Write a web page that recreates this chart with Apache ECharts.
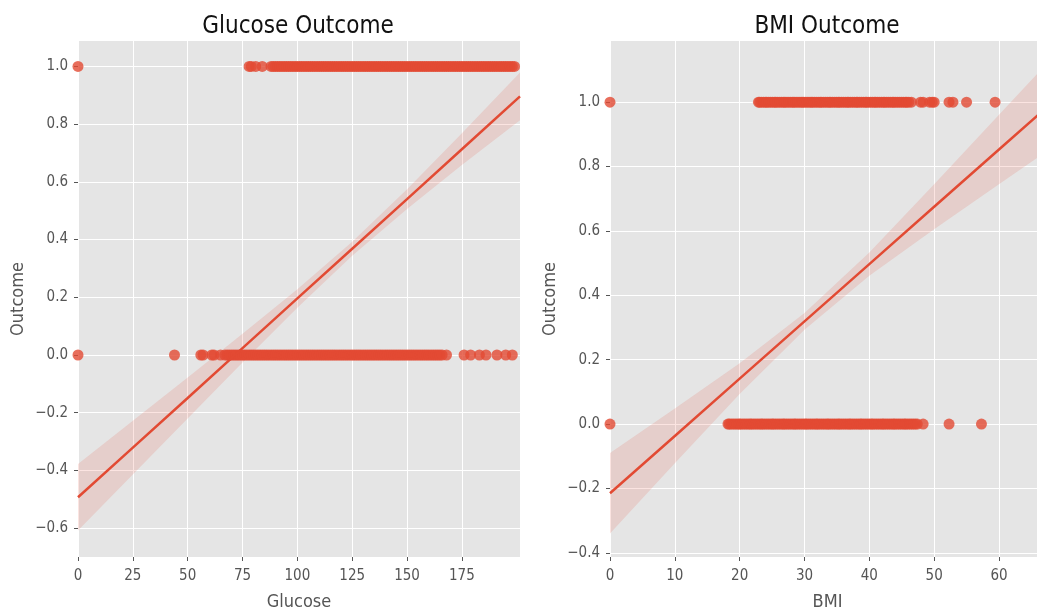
<!DOCTYPE html>
<html>
<head>
<meta charset="utf-8">
<script src="https://cdn.jsdelivr.net/npm/echarts@6/dist/echarts.min.js"></script>
<style>
html,body{margin:0;padding:0;background:#fff;overflow:hidden;}
#c{width:1045px;height:610px;}
</style>
</head>
<body>
<div id="c"></div>
<script>
// ---------- data ----------
const glucoseOutcome1 = [0, 78, 79, 81, 84, 88, 89, 90, 91, 92, 93, 94, 95, 96, 97, 98, 99, 100, 101, 102, 103, 104, 105, 106, 107, 108, 109, 110, 111, 112, 113, 114, 115, 116, 117, 118, 119, 120, 121, 122, 123, 124, 125, 126, 127, 128, 129, 130, 131, 132, 133, 134, 135, 136, 137, 138, 139, 140, 141, 142, 143, 144, 145, 146, 147, 148, 149, 150, 151, 152, 153, 154, 155, 156, 157, 158, 159, 160, 161, 162, 163, 164, 165, 166, 167, 168, 169, 170, 171, 172, 173, 174, 175, 176, 177, 178, 179, 180, 181, 182, 183, 184, 185, 186, 187, 188, 189, 190, 191, 192, 193, 194, 195, 196, 197, 198, 199];
const glucoseOutcome0 = [0, 44, 56, 57, 61, 62, 65, 67, 68, 69, 70, 71, 72, 73, 74, 75, 76, 77, 78, 79, 80, 81, 82, 83, 84, 85, 86, 87, 88, 89, 90, 91, 92, 93, 94, 95, 96, 97, 98, 99, 100, 101, 102, 103, 104, 105, 106, 107, 108, 109, 110, 111, 112, 113, 114, 115, 116, 117, 118, 119, 120, 121, 122, 123, 124, 125, 126, 127, 128, 129, 130, 131, 132, 133, 134, 135, 136, 137, 138, 139, 140, 141, 142, 143, 144, 145, 146, 147, 148, 149, 150, 151, 152, 153, 154, 155, 156, 157, 158, 159, 160, 161, 162, 163, 164, 165, 166, 168, 176, 179, 183, 186, 191, 195, 198];
const glucoseFitX     = [0, 25, 50, 75, 100, 125, 150, 175, 201.5];
const glucoseFitY     = [-0.493, -0.321, -0.149, 0.024, 0.196, 0.368, 0.540, 0.713, 0.896];
const glucoseCIUpper  = [-0.378, -0.228, -0.078, 0.074, 0.228, 0.392, 0.574, 0.768, 0.979];
const glucoseCILower  = [-0.608, -0.414, -0.220, -0.026, 0.164, 0.344, 0.506, 0.658, 0.813];

const bmiOutcome1 = [0, 22.9, 23.1, 23.4, 23.7, 24.0, 24.2, 24.5, 24.8, 25.1, 25.4, 25.6, 25.9, 26.2, 26.5, 26.8, 27.0, 27.3, 27.6, 27.9, 28.2, 28.4, 28.7, 29.0, 29.3, 29.6, 29.8, 30.1, 30.4, 30.7, 31.0, 31.2, 31.5, 31.8, 32.1, 32.4, 32.6, 32.9, 33.2, 33.5, 33.8, 34.0, 34.3, 34.6, 34.9, 35.2, 35.4, 35.7, 36.0, 36.3, 36.6, 36.8, 37.1, 37.4, 37.7, 38.0, 38.2, 38.5, 38.8, 39.1, 39.4, 39.6, 39.9, 40.2, 40.5, 40.8, 41.0, 41.3, 41.6, 41.9, 42.2, 42.4, 42.7, 43.0, 43.3, 43.6, 43.8, 44.1, 44.4, 44.7, 45.0, 45.3, 45.6, 45.8, 46.1, 46.5, 47.9, 48.3, 49.3, 49.7, 50.0, 52.3, 52.9, 55.0, 59.4, 67.1];
const bmiOutcome0 = [0, 18.2, 18.4, 18.7, 19.0, 19.3, 19.6, 19.9, 20.1, 20.4, 20.7, 21.0, 21.3, 21.6, 21.8, 22.1, 22.4, 22.7, 23.0, 23.3, 23.5, 23.8, 24.1, 24.4, 24.7, 25.0, 25.2, 25.5, 25.8, 26.1, 26.4, 26.7, 26.9, 27.2, 27.5, 27.8, 28.1, 28.4, 28.6, 28.9, 29.2, 29.5, 29.8, 30.1, 30.3, 30.6, 30.9, 31.2, 31.5, 31.8, 32.0, 32.3, 32.6, 32.9, 33.2, 33.5, 33.7, 34.0, 34.3, 34.6, 34.9, 35.2, 35.4, 35.7, 36.0, 36.3, 36.6, 36.9, 37.1, 37.4, 37.7, 38.0, 38.3, 38.6, 38.8, 39.1, 39.4, 39.7, 40.0, 40.3, 40.5, 40.8, 41.1, 41.4, 41.7, 42.0, 42.2, 42.5, 42.8, 43.1, 43.4, 43.7, 43.9, 44.2, 44.5, 44.8, 45.1, 45.4, 45.6, 45.9, 46.2, 46.5, 46.8, 47.1, 47.4, 48.3, 52.3, 57.3];
const bmiFitX     = [0, 10, 20, 30, 40, 50, 60, 67.1];
const bmiFitY     = [-0.215, -0.037, 0.141, 0.319, 0.497, 0.675, 0.853, 0.979];
const bmiCIUpper  = [-0.090, 0.048, 0.189, 0.345, 0.533, 0.745, 0.961, 1.114];
const bmiCILower  = [-0.340, -0.122, 0.093, 0.293, 0.461, 0.605, 0.745, 0.844];

const outcomeLevels = [0, 1];
const glucoseXTicks = [0, 25, 50, 75, 100, 125, 150, 175];
const glucoseYTicks = [-0.6, -0.4, -0.2, 0.0, 0.2, 0.4, 0.6, 0.8, 1.0];
const bmiXTicks = [0, 10, 20, 30, 40, 50, 60];
const bmiYTicks = [-0.4, -0.2, 0.0, 0.2, 0.4, 0.6, 0.8, 1.0];

// ---------- style ----------
const RED = '#E24A33';
const FONT = '"DejaVu Sans Condensed", "Liberation Sans Narrow", "DejaVu Sans", sans-serif';
const TICKC = '#555555';

function fmtY(v){ const s = Math.abs(v).toFixed(1); return (v < -1e-9 ? '\u2212' : '') + s; }

function xAxis(idx, min, max, ticks, name){
  return {
    type:'value', gridIndex: idx, min:min, max:max,
    name:name, nameLocation:'middle', nameGap:36,
    nameTextStyle:{color:TICKC, fontSize:18, fontFamily:FONT},
    axisLine:{show:false, onZero:false},
    axisTick:{show:true, length:4, lineStyle:{color:TICKC, width:1}, customValues:ticks},
    axisLabel:{color:TICKC, fontSize:15, fontFamily:FONT, margin:12, customValues:ticks, formatter: v => String(v)},
    splitLine:{show:true, lineStyle:{color:'#ffffff', width:1}}
  };
}
function yAxis(idx, min, max, ticks, name){
  return {
    type:'value', gridIndex: idx, min:min, max:max,
    name:name, nameLocation:'middle', nameGap:51,
    nameTextStyle:{color:TICKC, fontSize:18, fontFamily:FONT},
    axisLine:{show:false, onZero:false},
    axisTick:{show:true, length:4, lineStyle:{color:TICKC, width:1}, customValues:ticks},
    axisLabel:{color:TICKC, fontSize:15, fontFamily:FONT, margin:10, customValues:ticks, formatter: fmtY},
    splitLine:{show:true, lineStyle:{color:'#ffffff', width:1}}
  };
}

function scatter(idx, xs, level){
  return {
    type:'scatter', xAxisIndex:idx, yAxisIndex:idx,
    data: xs.map(v => [v, level]),
    symbol:'circle', symbolSize:11,
    itemStyle:{color:RED, opacity:0.8},
    silent:true, z:2, clip:true
  };
}
function band(idx, xs, lo, hi){
  return {
    type:'custom', xAxisIndex:idx, yAxisIndex:idx, data:[[xs[0], lo[0]]],
    clip:true, silent:true, z:3,
    renderItem: function(params, api){
      const pts = [];
      for (let i = 0; i < xs.length; i++) pts.push(api.coord([xs[i], hi[i]]));
      for (let i = xs.length - 1; i >= 0; i--) pts.push(api.coord([xs[i], lo[i]]));
      return {type:'polygon', shape:{points:pts}, style:{fill:'rgba(226,74,51,0.15)'}};
    }
  };
}
function fitLine(idx, xs, ys){
  return {
    type:'line', xAxisIndex:idx, yAxisIndex:idx,
    data: xs.map((x, i) => [x, ys[i]]),
    showSymbol:false, symbol:'none', silent:true, z:4, clip:true,
    lineStyle:{color:RED, width:2.5}
  };
}

const chart = echarts.init(document.getElementById('c'), null, {renderer:'canvas'});
chart.setOption({
  animation:false,
  backgroundColor:'#ffffff',
  title:[
    {text:'Glucose Outcome', left:293, top:10, textAlign:'center',
     textStyle:{fontFamily:FONT, fontSize:24, fontWeight:'normal', color:'#111'}},
    {text:'BMI Outcome', left:822, top:10, textAlign:'center',
     textStyle:{fontFamily:FONT, fontSize:24, fontWeight:'normal', color:'#111'}}
  ],
  grid:[
    {left:78, width:442, top:41, bottom:53, outerBoundsMode:'none', containLabel:false, backgroundColor:'#E5E5E5', show:true, borderWidth:0},
    {left:610, width:435, top:41, bottom:53, outerBoundsMode:'none', containLabel:false, backgroundColor:'#E5E5E5', show:true, borderWidth:0}
  ],
  xAxis:[
    xAxis(0, 0, 201.5, glucoseXTicks, 'Glucose'),
    xAxis(1, 0, 67.1, bmiXTicks, 'BMI')
  ],
  yAxis:[
    yAxis(0, -0.70, 1.088, glucoseYTicks, 'Outcome'),
    yAxis(1, -0.413, 1.19, bmiYTicks, 'Outcome')
  ],
  series:[
    scatter(0, glucoseOutcome1, outcomeLevels[1]),
    scatter(0, glucoseOutcome0, outcomeLevels[0]),
    band(0, glucoseFitX, glucoseCILower, glucoseCIUpper),
    fitLine(0, glucoseFitX, glucoseFitY),
    scatter(1, bmiOutcome1, outcomeLevels[1]),
    scatter(1, bmiOutcome0, outcomeLevels[0]),
    band(1, bmiFitX, bmiCILower, bmiCIUpper),
    fitLine(1, bmiFitX, bmiFitY)
  ]
});
</script>
</body>
</html>
